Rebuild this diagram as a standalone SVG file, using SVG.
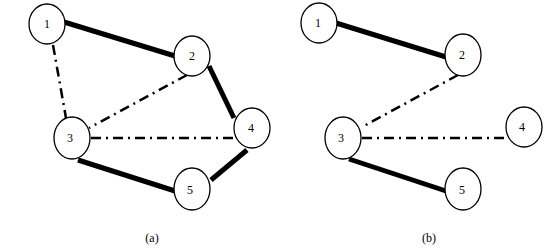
<svg xmlns="http://www.w3.org/2000/svg" width="557" height="252" viewBox="0 0 557 252">
<style>
.node ellipse{fill:#fff;stroke:#000;stroke-width:1.3}
.node text,.cap{font-family:"Liberation Serif",serif;font-size:12px;fill:#000;text-anchor:middle;dominant-baseline:central}
.thick{stroke:#000;stroke-width:5;fill:none}
.dd{stroke:#000;stroke-width:2.5;fill:none;stroke-dasharray:10 5 2 5}
</style>
<rect width="557" height="252" fill="#fff"/>
<g id="connectors">
<line class="thick" x1="64" y1="22" x2="175" y2="56"/>
<line class="dd" x1="53" y1="45" x2="66" y2="118"/>
<line class="dd" x1="187" y1="75" x2="89" y2="128"/>
<line class="thick" x1="209" y1="66" x2="234" y2="118"/>
<line class="dd" x1="91" y1="138" x2="233" y2="138"/>
<line class="thick" x1="78" y1="160" x2="175" y2="191"/>
<line class="thick" x1="247" y1="150" x2="211" y2="180"/>
<line class="thick" x1="336" y1="23" x2="446" y2="57"/>
<line class="dd" x1="458" y1="75" x2="362" y2="127"/>
<line class="dd" x1="362" y1="138" x2="506" y2="138"/>
<line class="thick" x1="349" y1="159" x2="446" y2="191"/>
</g>
<g id="a1" class="node"><ellipse cx="47" cy="24" rx="18" ry="20"/><text x="47" y="24">1</text></g>
<g id="a2" class="node"><ellipse cx="192" cy="56" rx="18" ry="20"/><text x="192" y="56">2</text></g>
<g id="a3" class="node"><ellipse cx="72" cy="138" rx="18" ry="21"/><text x="70" y="138">3</text></g>
<g id="a4" class="node"><ellipse cx="252" cy="128" rx="18" ry="20"/><text x="251" y="128">4</text></g>
<g id="a5" class="node"><ellipse cx="192" cy="189" rx="18" ry="21"/><text x="190" y="190">5</text></g>
<g id="b1" class="node"><ellipse cx="319" cy="23" rx="18" ry="20"/><text x="318" y="23">1</text></g>
<g id="b2" class="node"><ellipse cx="463" cy="55" rx="18" ry="21"/><text x="462" y="55">2</text></g>
<g id="b3" class="node"><ellipse cx="343" cy="138" rx="18" ry="21"/><text x="341" y="138">3</text></g>
<g id="b4" class="node"><ellipse cx="524" cy="127" rx="18" ry="20"/><text x="522" y="127">4</text></g>
<g id="b5" class="node"><ellipse cx="463" cy="189" rx="18" ry="21"/><text x="462" y="190">5</text></g>
<text class="cap" x="152" y="238">(a)</text>
<text class="cap" x="429" y="238">(b)</text>
</svg>
